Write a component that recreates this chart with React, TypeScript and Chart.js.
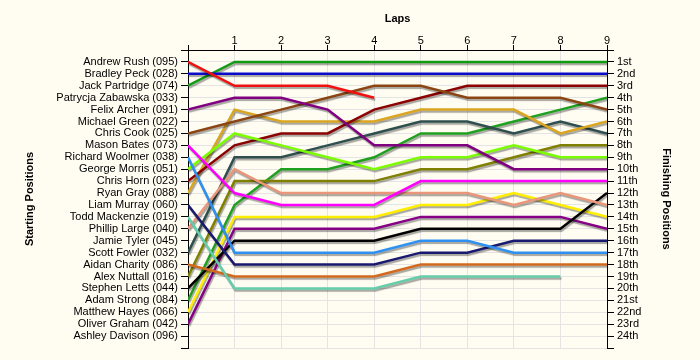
import React, { useEffect, useRef } from "react";
import { Chart, registerables } from "chart.js";

Chart.register(...registerables);

const laps = [0, 1, 2, 3, 4, 5, 6, 7, 8, 9];

const startNames = [
  "Andrew Rush (095)",
  "Bradley Peck (028)",
  "Jack Partridge (074)",
  "Patrycja Zabawska (033)",
  "Felix Archer (091)",
  "Michael Green (022)",
  "Chris Cook (025)",
  "Mason Bates (073)",
  "Richard Woolmer (038)",
  "George Morris (051)",
  "Chris Horn (023)",
  "Ryan Gray (088)",
  "Liam Murray (060)",
  "Todd Mackenzie (019)",
  "Phillip Large (040)",
  "Jamie Tyler (045)",
  "Scott Fowler (032)",
  "Aidan Charity (086)",
  "Alex Nuttall (016)",
  "Stephen Letts (044)",
  "Adam Strong (084)",
  "Matthew Hayes (066)",
  "Oliver Graham (042)",
  "Ashley Davison (096)",
];

const finishLabels = [
  "1st", "2nd", "3rd", "4th", "5th", "6th", "7th", "8th", "9th", "10th", "11th", "12th",
  "13th", "14th", "15th", "16th", "17th", "18th", "19th", "20th", "21st", "22nd", "23rd", "24th",
];

// positions per lap (lap 0 = starting position)
const andrewRush = [1, 3, 3, 3, 4, null, null, null, null, null];
const bradleyPeck = [2, 2, 2, 2, 2, 2, 2, 2, 2, 2];
const jackPartridge = [3, 1, 1, 1, 1, 1, 1, 1, 1, 1];
const felixArcher = [5, 4, 4, 5, 8, 8, 8, 10, 10, 10];
const chrisCook = [7, 6, 5, 4, 3, 3, 4, 4, 4, 5];
const masonBates = [8, 12, 13, 13, 13, 11, 11, 11, 11, 11];
const richardWoolmer = [9, 17, 17, 17, 17, 16, 16, 17, 17, 17];
const georgeMorris = [10, 7, 8, 9, 10, 9, 9, 8, 9, 9];
const chrisHorn = [11, 8, 7, 7, 5, 4, 3, 3, 3, 3];
const ryanGray = [12, 5, 6, 6, 6, 5, 5, 5, 7, 6];
const liamMurray = [13, 18, 18, 18, 18, 17, 17, 16, 16, 16];
const toddMackenzie = [14, 20, 20, 20, 20, 19, 19, 19, 19, null];
const phillipLarge = [15, 10, 12, 12, 12, 12, 12, 13, 12, 13];
const scottFowler = [17, 9, 9, 8, 7, 6, 6, 7, 6, 7];
const aidanCharity = [18, 19, 19, 19, 19, 18, 18, 18, 18, 18];
const alexNuttall = [19, 11, 11, 11, 11, 10, 10, 9, 8, 8];
const stephenLetts = [20, 16, 16, 16, 16, 15, 15, 15, 15, 12];
const adamStrong = [21, 13, 10, 10, 9, 7, 7, 6, 5, 4];
const matthewHayes = [22, 14, 14, 14, 14, 13, 13, 12, 13, 14];
const oliverGraham = [23, 15, 15, 15, 15, 14, 14, 14, 14, 15];

const series: [string, (number | null)[], string][] = [
  ["Andrew Rush (095)", andrewRush, "#F01010"],
  ["Bradley Peck (028)", bradleyPeck, "#0A0ACD"],
  ["Jack Partridge (074)", jackPartridge, "#129A12"],
  ["Felix Archer (091)", felixArcher, "#800080"],
  ["Chris Cook (025)", chrisCook, "#8B4513"],
  ["Mason Bates (073)", masonBates, "#FF00FF"],
  ["Richard Woolmer (038)", richardWoolmer, "#2E90F0"],
  ["George Morris (051)", georgeMorris, "#7CFC00"],
  ["Chris Horn (023)", chrisHorn, "#8B0000"],
  ["Ryan Gray (088)", ryanGray, "#DAA520"],
  ["Liam Murray (060)", liamMurray, "#191970"],
  ["Todd Mackenzie (019)", toddMackenzie, "#66CDAA"],
  ["Phillip Large (040)", phillipLarge, "#E9967A"],
  ["Scott Fowler (032)", scottFowler, "#2F4F4F"],
  ["Aidan Charity (086)", aidanCharity, "#D2691E"],
  ["Alex Nuttall (016)", alexNuttall, "#808000"],
  ["Stephen Letts (044)", stephenLetts, "#000000"],
  ["Adam Strong (084)", adamStrong, "#1FA01F"],
  ["Matthew Hayes (066)", matthewHayes, "#FFEE00"],
  ["Oliver Graham (042)", oliverGraham, "#850085"],
];

const FONT = "'Liberation Sans', Arial, sans-serif";

const shadowPlugin = {
  id: "lineShadow",
  beforeDatasetDraw(chart: any) {
    const ctx = chart.ctx;
    ctx.save();
    ctx.shadowColor = "rgba(0,0,0,0.35)";
    ctx.shadowBlur = 1;
    ctx.shadowOffsetX = 1;
    ctx.shadowOffsetY = 2;
  },
  afterDatasetDraw(chart: any) {
    chart.ctx.restore();
  },
};

export default function App() {
  const ref = useRef<HTMLCanvasElement | null>(null);

  useEffect(() => {
    if (!ref.current) return;
    const chart = new Chart(ref.current, {
      type: "line",
      data: {
        datasets: series.map(([name, arr, color]) => ({
          label: name,
          data: arr.map((v, i) => ({ x: laps[i], y: v })),
          borderColor: color,
          backgroundColor: color,
          borderWidth: 2.5,
          pointRadius: 0,
          pointHoverRadius: 0,
          tension: 0,
          spanGaps: false,
          yAxisID: "y",
          xAxisID: "x",
        })),
      },
      plugins: [shadowPlugin],
      options: {
        responsive: false,
        animation: false,
        layout: { padding: { top: 0, left: 0, right: 0, bottom: 12 } },
        plugins: { legend: { display: false }, tooltip: { enabled: false } },
        scales: {
          x: {
            type: "linear",
            position: "top",
            min: 0,
            max: 9,
            afterFit: (s: any) => {
              s.height = 50;
            },
            ticks: {
              stepSize: 1,
              color: "#000",
              font: { family: FONT, size: 11 },
              padding: -3,
              callback: (v: any) => (v === 0 ? "" : String(v)),
            },
            grid: { color: "#E4E4E4", tickColor: "#000", tickLength: 5 },
            border: { color: "#000", width: 1 },
            title: {
              display: true,
              text: "Laps",
              color: "#000",
              font: { family: FONT, size: 11, weight: "bold" },
              padding: { top: 12, bottom: 0 },
            },
          },
          y: {
            type: "linear",
            position: "left",
            reverse: true,
            min: 0,
            max: 25,
            afterFit: (s: any) => {
              s.width = 188;
            },
            ticks: {
              stepSize: 1,
              autoSkip: false,
              color: "#000",
              font: { family: FONT, size: 11 },
              padding: 3,
              callback: (v: any) => (v >= 1 && v <= 24 ? startNames[v - 1] : ""),
            },
            grid: { color: "#E4E4E4", tickColor: "#000", tickLength: 7 },
            border: { color: "#000", width: 1 },
            title: {
              display: true,
              text: "Starting Positions",
              color: "#000",
              font: { family: FONT, size: 11, weight: "bold" },
              padding: { top: 23, bottom: 0 },
            },
          },
          y2: {
            type: "linear",
            position: "right",
            reverse: true,
            min: 0,
            max: 25,
            afterFit: (s: any) => {
              s.width = 93;
            },
            ticks: {
              stepSize: 1,
              autoSkip: false,
              color: "#000",
              font: { family: FONT, size: 11 },
              padding: 3,
              callback: (v: any) => (v >= 1 && v <= 24 ? finishLabels[v - 1] : ""),
            },
            grid: { drawOnChartArea: false, tickColor: "#000", tickLength: 7 },
            border: { color: "#000", width: 1 },
            title: {
              display: true,
              text: "Finishing Positions",
              color: "#000",
              font: { family: FONT, size: 11, weight: "bold" },
              padding: { top: 27, bottom: 0 },
            },
          },
        },
      },
    } as any);
    return () => chart.destroy();
  }, []);

  return (
    <canvas
      ref={ref}
      width={700}
      height={360}
      style={{
        position: "absolute",
        left: 0,
        top: 0,
        width: 700,
        height: 360,
        display: "block",
        background: "#FFFDF2",
      }}
    />
  );
}
